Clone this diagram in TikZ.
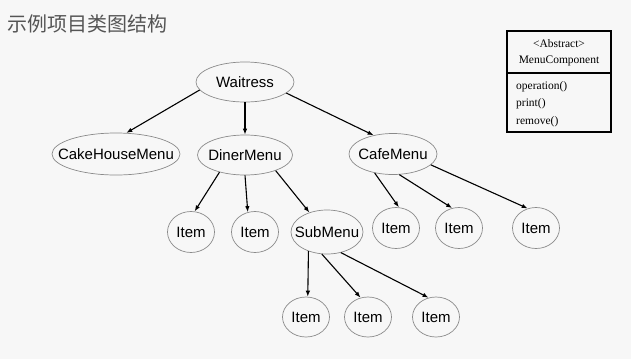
\documentclass[tikz,border=0pt]{standalone}
\usepackage{fontspec}
\setmainfont{Liberation Serif}
\setsansfont{Liberation Sans}
\newfontfamily\cjk{Noto Sans CJK SC}
\usepackage{tikz}
\usepackage{xcolor}
\usetikzlibrary{shapes.geometric,arrows.meta}
\definecolor{bgcol}{HTML}{F7F7F7}
\definecolor{titlecol}{HTML}{555555}
\definecolor{rimcol}{HTML}{8A8A8A}

\begin{document}
\begin{tikzpicture}[x=1pt,y=-1pt,
  menu/.style={ellipse,draw=rimcol,line width=0.7pt,inner ysep=0pt,inner xsep=-14pt,minimum height=40pt,font=\sffamily\fontsize{15}{18}\selectfont},
  item/.style={menu,minimum width=47pt,minimum height=41pt},
  link/.style={-{Latex[length=6pt,width=4.5pt]},line width=1.1pt},
  uml/.style={font=\rmfamily\fontsize{11.5}{13}\selectfont,inner sep=0pt}]
\fill[bgcol] (0,0) rectangle (631,359);
\useasboundingbox (0,0) rectangle (631,359);

\node[anchor=west,text=titlecol,inner sep=0pt,font=\cjk\fontsize{20}{24}\selectfont] (title) at (7,24) {示例项目类图结构};

\node[menu,minimum width=98pt] (waitress) at (245,82) {Waitress};

\node[menu,minimum width=128pt,minimum height=42pt] (cake) at (116,154) {CakeHouseMenu};
\node[menu,minimum width=95pt] (diner) at (245,155) {DinerMenu};
\node[menu,minimum width=88pt,minimum height=41pt] (cafe) at (393,154) {CafeMenu};

\node[item] (dinerA) at (191,232) {Item};
\node[item] (dinerB) at (255,232) {Item};
\node[menu,minimum width=72pt,minimum height=44pt] (sub) at (327,232) {SubMenu};

\node[item] (cafeA) at (396,228) {Item};
\node[item] (cafeB) at (459,228) {Item};
\node[item] (cafeC) at (536,228) {Item};

\node[item,minimum height=40pt] (subA) at (306,317) {Item};
\node[item,minimum height=40pt] (subB) at (368,317) {Item};
\node[item,minimum height=40pt] (subC) at (436,317) {Item};

% Arrows
\draw[link] (waitress.190) -- (cake.64);
\draw[link] (waitress.south) -- (diner.north);
\draw[link] (waitress.345) -- (cafe.136);

\draw[link] (diner.214) -- (dinerA.80);
\draw[link] (diner.south) -- (dinerB.110);
\draw[link] (diner.333) -- (sub.132);

\draw[link] (cafe.226) -- (cafeA.82);
\draw[link] (cafe.287) -- (cafeB.109);
\draw[link] (cafe.344) -- (cafeC.113);

\draw[link] (sub.226) -- (subA.85);
\draw[link] (sub.257) -- (subB.111);
\draw[link] (sub.304) -- (subC.111);

% Legend
\draw[line width=1.3pt] (507,31) rectangle (611,132);
\draw[line width=1.3pt] (507,73) -- (611,73);
\node[uml] (abstract) at (559,44) {<Abstract>};
\node[uml] (component) at (559,61) {MenuComponent};
\node[uml,anchor=west] (operation) at (516,87) {operation()};
\node[uml,anchor=west] (print) at (516,104) {print()};
\node[uml,anchor=west] (remove) at (516,122) {remove()};
\end{tikzpicture}
\end{document}
